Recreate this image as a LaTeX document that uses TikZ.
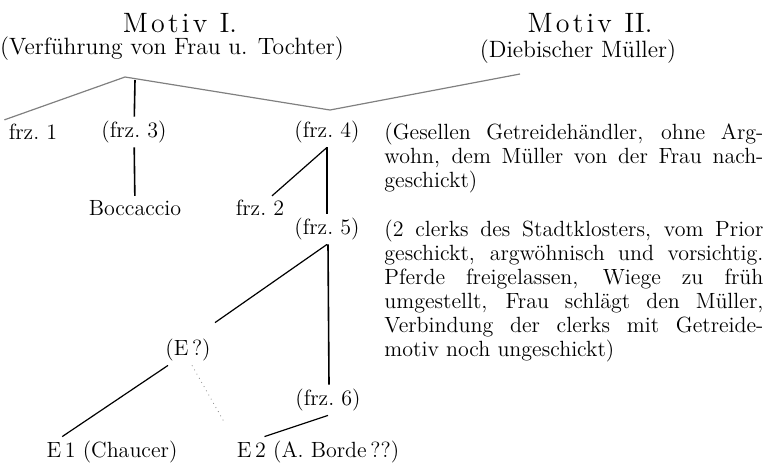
\documentclass[tikz,border=0pt]{standalone}
\usepackage{fontspec}
\newcommand{\spc}{\kern1.6pt}
\begin{document}
\begin{tikzpicture}[x=0.5pt,y=-0.5pt,
  lbl/.style={font=\fontsize{11}{12}\selectfont,inner sep=2pt},
  sub/.style={font=\fontsize{11.8}{12}\selectfont,inner sep=2pt},
  head/.style={font=\fontsize{14}{15}\selectfont},
  note/.style={font=\fontsize{11}{12}\selectfont,anchor=base west,text width=189.5pt,align=justify,inner sep=0pt},
  stem/.style={line width=0.8pt},
  twig/.style={line width=0.6pt}]
\useasboundingbox (0,0) rectangle (765,462);
\node[head] (m1) at (180,23) {M\spc o\spc t\spc i\spc v\spc\ I.};
\node[sub] (s1) at (172,49) {(Verführung von Frau u. Tochter)};
\node[head] (m2) at (590,23) {M\spc o\spc t\spc i\spc v\spc\ II.};
\node[sub] (s2) at (578,52) {(Diebischer Müller)};
\coordinate (c1) at (125,77);
\coordinate (c2) at (330,110);
\coordinate (d2) at (520,74);
\coordinate (t3) at (135,80);
\node[lbl] (f1) at (33,132) {frz.~1};
\node[lbl] (f3) at (134,132) {(frz.~3)};
\node[lbl] (f4) at (327,132) {(frz.~4)};
\node[lbl] (bo) at (135,208) {Boccaccio};
\node[lbl] (f2) at (260,208) {frz.~2};
\node[lbl] (f5) at (327,229) {(frz.~5)};
\node[lbl] (eq) at (188,350) {(E\,?)};
\node[lbl] (f6) at (328,400) {(frz.~6)};
\node[lbl] (e1) at (112,452) {E\,1 (Chaucer)};
\node[lbl] (e2) at (318,452) {E\,2 (A. Borde\,??)};
\node[note] (n4) at (384,139) {(Gesellen Getreidehändler, ohne Arg-\linebreak wohn, dem Müller von der Frau nach-\linebreak geschickt)};
\node[note] (n5) at (384,236) {(2 clerks des Stadtklosters, vom Prior\linebreak geschickt, argwöhnisch und vorsichtig.\linebreak Pferde freigelassen, Wiege zu früh\linebreak umgestellt, Frau schlägt den Müller,\linebreak Verbindung der clerks mit Getreide-\linebreak motiv noch ungeschickt)};
\draw[twig,gray] (f1.north west) -- (c1);
\draw[twig,gray] (c1) -- (c2);
\draw[twig,gray] (d2) -- (c2);
\draw[stem] (t3) -- (f3);
\draw[stem] (f3) -- (bo);
\draw[twig] (f4.south) -- ([xshift=6pt]f2.north);
\draw[stem] (f4) -- (f5);
\draw[twig] (f5.south) -- ([yshift=6pt]eq.north east);
\draw[stem] ([xshift=0.5pt]f5.south) -- ([xshift=0.5pt]f6.north);
\draw[twig] ([xshift=-10pt]eq.south) -- ([xshift=10pt]e1.north west);
\draw[dotted,gray,shorten >=8pt] ([xshift=2pt]eq.south) -- (e2.north west);
\draw[twig] (f6.south) -- ([xshift=16pt]e2.north west);
\end{tikzpicture}
\end{document}
